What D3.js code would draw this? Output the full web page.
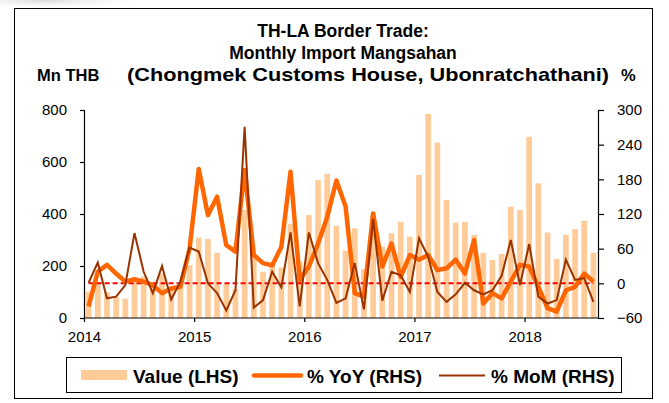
<!DOCTYPE html>
<html><head><meta charset="utf-8">
<script src="https://cdn.jsdelivr.net/npm/d3@7"></script>
<style>body{margin:0;background:#fff}svg{display:block}text{font-family:"Liberation Sans",Arial,sans-serif}</style>
</head><body><svg id="c" width="669" height="403"></svg>
<script>
const months = [];
for (let y = 2014; y <= 2018; y++) for (let m = 1; m <= 12; m++) { if (y === 2018 && m > 8) break; months.push(y + "-" + String(m).padStart(2, "0")); }
const valueLHS = [101,138,100,80,74,140,160,136,170,120,124,203,
  309,304,251,132,112,415,240,178,215,194,362,215,
  396,530,555,355,259,345,188,393,274,326,370,313,
  550,785,674,454,367,370,320,251,223,246,428,415,
  697,518,329,227,320,342,374,251];
const yoyRHS = [-40,20,32,17,3,7,3,-3,-17,-9,-6,60,
  198,118,150,66,55,196,49,35,31,63,193,6,
  29,69,115,178,133,-17,-23,121,29,69,11,49,
  41,49,23,26,41,17,75,-35,-17,-26,3,32,
  29,-6,-43,-49,-12,-6,17,3];
const momRHS = [1,36,-26,-23,-3,87,20,-17,30,-28,3,62,
  55,0,-17,-47,-12,271,-42,-29,20,-7,88,-40,
  88,35,6,-34,-26,35,-45,111,-30,20,14,-15,
  78,46,-15,-32,-19,1,-12,-19,-12,13,75,-3,
  68,-23,-35,-29,41,6,9,-32];
const yearTicks = ["2014","2015","2016","2017","2018"];
const leftTicks = [0,200,400,600,800];
const rightTicks = [-60,0,60,120,180,240,300];
const legendLabels = ["Value (LHS)","% YoY (RHS)","% MoM (RHS)"];

const svg = d3.select("#c");
const L = 84, R = 598, T = 110, B = 318;
const x = d3.scaleBand().domain(months).range([L, R]).paddingInner(0.38).paddingOuter(0.19);
const xc = d => x(d) + x.bandwidth() / 2;
const yL = d3.scaleLinear().domain([0, 800]).range([B, T]);
const yR = d3.scaleLinear().domain([-60, 300]).range([B, T]);
const xYear = d3.scaleLinear().domain([2014, 2018 + 8/12]).range([L, R]);

// top-left soft shade
const defs = svg.append("defs");
const rg = defs.append("radialGradient").attr("id", "sh").attr("cx", "0.3").attr("cy", "0").attr("r", "0.7");
rg.append("stop").attr("offset", "0").attr("stop-color", "#d8d8d8");
rg.append("stop").attr("offset", "1").attr("stop-color", "#fff").attr("stop-opacity", 0);
svg.append("rect").attr("x", 0).attr("y", 0).attr("width", 150).attr("height", 14).attr("fill", "url(#sh)");

// frame
svg.append("rect").attr("x", 14.5).attr("y", 8.5).attr("width", 638).attr("height", 390)
  .attr("fill", "none").attr("stroke", "#000").attr("stroke-width", 1);

// bars
svg.append("g").selectAll("rect").data(months).join("rect")
  .attr("x", d => x(d)).attr("width", x.bandwidth())
  .attr("y", (d, i) => yL(valueLHS[i])).attr("height", (d, i) => yL(0) - yL(valueLHS[i]))
  .attr("fill", "#FFCC99");

// zero line
svg.append("path").datum(months)
  .attr("d", d3.line().x(d => xc(d)).y(() => yR(0)))
  .attr("fill", "none").attr("stroke", "#FF0000").attr("stroke-width", 2).attr("stroke-dasharray", "5,3");

svg.append("path").datum(yoyRHS)
  .attr("d", d3.line().x((d, i) => xc(months[i])).y(d => yR(d)))
  .attr("fill", "none").attr("stroke", "#FF6600").attr("stroke-width", 4.5).attr("stroke-linejoin", "round");
svg.append("path").datum(momRHS)
  .attr("d", d3.line().x((d, i) => xc(months[i])).y(d => yR(d)))
  .attr("fill", "none").attr("stroke", "#993300").attr("stroke-width", 2).attr("stroke-linejoin", "miter");

// axes
const fs = "15px";
const gl = svg.append("g").attr("transform", `translate(${L},0)`)
  .call(d3.axisLeft(yL).tickValues(leftTicks).tickSize(4).tickPadding(13));
const gr = svg.append("g").attr("transform", `translate(${R},0)`)
  .call(d3.axisRight(yR).tickValues(rightTicks).tickSize(6).tickPadding(13));
const gx = svg.append("g").attr("transform", `translate(0,${B})`)
  .call(d3.axisBottom(xYear).tickValues(yearTicks.map(Number)).tickFormat(d => String(d)).tickSize(4).tickPadding(9));
[gl, gr, gx].forEach(g => {
  g.selectAll("text").attr("font-size", fs).attr("fill", "#000").style("font-family", '"Liberation Sans",Arial,sans-serif');
  g.selectAll("line,path").attr("stroke", "#000").attr("stroke-width", 1.2);
});
gx.select(".domain").attr("d", `M${L},0H${R}`);

// titles
const tt = svg.append("g").attr("font-weight", "bold").attr("font-size", "17.5px").attr("fill", "#000");
tt.append("text").attr("x", 343).attr("y", 37).attr("text-anchor", "middle").text("TH-LA Border Trade:");
tt.append("text").attr("x", 343).attr("y", 59).attr("text-anchor", "middle").text("Monthly Import Mangsahan");
tt.append("text").attr("x", 37).attr("y", 81).attr("font-size", "16.5px").text("Mn THB");
tt.append("text").attr("x", 127).attr("y", 81).attr("font-size", "19px").attr("textLength", 482).attr("lengthAdjust", "spacingAndGlyphs").text("(Chongmek Customs House, Ubonratchathani)");
tt.append("text").attr("x", 621).attr("y", 81).attr("font-size", "16.5px").text("%");

// legend
const lg = svg.append("g");
lg.append("rect").attr("x", 66.5).attr("y", 357.5).attr("width", 555).attr("height", 35)
  .attr("fill", "#fff").attr("stroke", "#000").attr("stroke-width", 1);
lg.append("rect").attr("x", 81).attr("y", 370).attr("width", 46).attr("height", 10).attr("fill", "#FFCC99");
lg.append("line").attr("x1", 254).attr("x2", 301).attr("y1", 375.5).attr("y2", 375.5).attr("stroke", "#FF6600").attr("stroke-width", 4.5).attr("stroke-linecap", "round");
lg.append("line").attr("x1", 439).attr("x2", 485).attr("y1", 375.5).attr("y2", 375.5).attr("stroke", "#993300").attr("stroke-width", 2);
const lt = [133, 307, 491];
legendLabels.forEach((s, i) => lg.append("text").attr("x", lt[i]).attr("y", 382.5).attr("font-size", "19px").attr("font-weight", "bold").text(s));
</script></body></html>
